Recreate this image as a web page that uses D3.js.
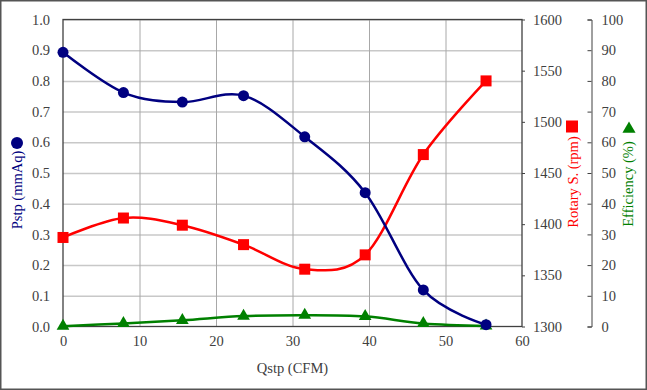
<!DOCTYPE html>
<html>
<head>
<meta charset="utf-8">
<script src="https://cdn.jsdelivr.net/npm/d3@7"></script>
<style>
  body { margin: 0; background: #fff; }
</style>
</head>
<body>
<div id="chart"></div>
<script>
// data
var qstp = [0, 7.9, 15.6, 23.6, 31.6, 39.5, 47.1, 55.3];
var pstp = [0.893, 0.762, 0.731, 0.752, 0.618, 0.436, 0.119, 0.006];
var rpm = [1387, 1406, 1399, 1380, 1356, 1370, 1468, 1540];
var eff = [0.1, 1.0, 2.0, 3.4, 3.7, 3.3, 1.0, 0.2];

var xTicks = [0, 10, 20, 30, 40, 50, 60];
var pTicks = [0, 0.1, 0.2, 0.3, 0.4, 0.5, 0.6, 0.7, 0.8, 0.9, 1.0];
var rTicks = [1300, 1350, 1400, 1450, 1500, 1550, 1600];
var eTicks = [0, 10, 20, 30, 40, 50, 60, 70, 80, 90, 100];

var FONT = "'Liberation Serif', 'Times New Roman', serif";
var FS = "14.5px";
var W = 647, H = 390;
var margin = {top: 19.5, right: 125, bottom: 63.5, left: 63};
var width = W - margin.left - margin.right;
var height = H - margin.top - margin.bottom;

var svg = d3.select("#chart").append("svg")
  .attr("width", W)
  .attr("height", H)
  .style("font-family", FONT);

// outer frame
svg.append("rect")
  .attr("x", 0.75).attr("y", 0.75)
  .attr("width", W - 1.5).attr("height", H - 1.5)
  .attr("fill", "#fff")
  .attr("stroke", "#555")
  .attr("stroke-width", 1.5);

var g = svg.append("g")
  .attr("transform", "translate(" + margin.left + "," + margin.top + ")");

var x = d3.scaleLinear().domain([0, 60]).range([0, width]);
var yP = d3.scaleLinear().domain([0, 1]).range([height, 0]);
var yR = d3.scaleLinear().domain([1300, 1600]).range([height, 0]);
var yE = d3.scaleLinear().domain([0, 100]).range([height, 0]);

var tickColor = "#404040";

function styleText(s) {
  s.attr("font-family", null);
  s.selectAll("text")
    .attr("fill", tickColor)
    .style("font-family", FONT)
    .style("font-size", FS);
}

// gridlines
g.append("g")
  .call(d3.axisLeft(yP).tickValues(pTicks.slice(1)).tickSize(-width).tickFormat(""))
  .call(function(s) {
    s.select(".domain").remove();
    s.selectAll("line").attr("stroke", "#c8c8c8").attr("stroke-width", 1.5);
  });
g.append("g")
  .call(d3.axisBottom(x).tickValues(xTicks.slice(1, -1)).tickSize(height).tickFormat(""))
  .call(function(s) {
    s.select(".domain").remove();
    s.selectAll("line").attr("stroke", "#a8a8a8").attr("stroke-width", 1);
  });

// plot border
g.append("rect")
  .attr("width", width).attr("height", height)
  .attr("fill", "none")
  .attr("stroke", "#404040")
  .attr("stroke-width", 1.3);

// left axis labels
g.append("g")
  .call(d3.axisLeft(yP).tickValues(pTicks).tickSize(0).tickPadding(13).tickFormat(d3.format(".1f")))
  .call(function(s) {
    s.select(".domain").remove();
    styleText(s);
  });

// bottom axis labels
g.append("g")
  .attr("transform", "translate(0," + height + ")")
  .call(d3.axisBottom(x).tickValues(xTicks).tickSize(0).tickPadding(9))
  .call(function(s) {
    s.select(".domain").remove();
    styleText(s);
  });

// rpm axis on the plot's right border
g.append("g")
  .attr("transform", "translate(" + width + ",0)")
  .call(d3.axisRight(yR).tickValues(rTicks).tickSize(3).tickPadding(8).tickFormat(d3.format("d")))
  .call(function(s) {
    s.select(".domain").remove();
    s.selectAll("line").attr("stroke", "#404040");
    styleText(s);
  });

// efficiency axis
var effX = 528.5;
g.append("g")
  .attr("transform", "translate(" + effX + ",0)")
  .call(d3.axisLeft(yE).tickValues(eTicks).tickSize(4).tickSizeOuter(4).tickFormat(""))
  .call(function(s) {
    s.select(".domain").attr("stroke", "#404040");
    s.selectAll("line").attr("stroke", "#404040");
  });
g.append("g")
  .attr("transform", "translate(" + effX + ",0)")
  .call(d3.axisRight(yE).tickValues(eTicks).tickSize(0).tickPadding(10))
  .call(function(s) {
    s.select(".domain").remove();
    styleText(s);
  });

// series
var curve = d3.curveCardinal.tension(0);
function drawLine(vals, yScale, color) {
  var line = d3.line()
    .x(function(d, i) { return x(qstp[i]); })
    .y(function(d) { return yScale(d); })
    .curve(curve);
  g.append("path")
    .datum(vals)
    .attr("fill", "none")
    .attr("stroke", color)
    .attr("stroke-width", 2.5)
    .attr("d", line);
}

drawLine(eff, yE, "#008000");
drawLine(rpm, yR, "#ff0000");
drawLine(pstp, yP, "#000080");

g.selectAll(".effpt").data(eff).enter().append("path")
  .attr("transform", function(d, i) { return "translate(" + x(qstp[i]) + "," + yE(d) + ")"; })
  .attr("d", d3.symbol(d3.symbolTriangle, 70))
  .attr("fill", "#008000");

g.selectAll(".rpmpt").data(rpm).enter().append("rect")
  .attr("x", function(d, i) { return x(qstp[i]) - 5.5; })
  .attr("y", function(d) { return yR(d) - 5.5; })
  .attr("width", 11).attr("height", 11)
  .attr("fill", "#ff0000");

g.selectAll(".ppt").data(pstp).enter().append("circle")
  .attr("cx", function(d, i) { return x(qstp[i]); })
  .attr("cy", function(d) { return yP(d); })
  .attr("r", 5.5)
  .attr("fill", "#000080");

// axis titles
function title(t, tx, ty, rot, color) {
  svg.append("text")
    .attr("transform", "translate(" + tx + "," + ty + ")" + (rot ? " rotate(-90)" : ""))
    .attr("text-anchor", "middle")
    .attr("fill", color)
    .style("font-family", FONT)
    .style("font-size", FS)
    .text(t);
}

title("Qstp (CFM)", margin.left + width / 2, 373, false, tickColor);

title("Pstp (mmAq)", 22, 190, true, "#000080");
svg.append("circle")
  .attr("cx", 17).attr("cy", 143).attr("r", 6)
  .attr("fill", "#000080");

title("Rotary S. (rpm)", 578, 182, true, "#ff0000");
svg.append("rect")
  .attr("x", 566).attr("y", 120.5).attr("width", 12).attr("height", 12)
  .attr("fill", "#ff0000");

title("Efficiency (%)", 633, 184, true, "#008000");
svg.append("path")
  .attr("transform", "translate(629,129)")
  .attr("d", d3.symbol(d3.symbolTriangle, 75))
  .attr("fill", "#008000");
</script>
</body>
</html>
